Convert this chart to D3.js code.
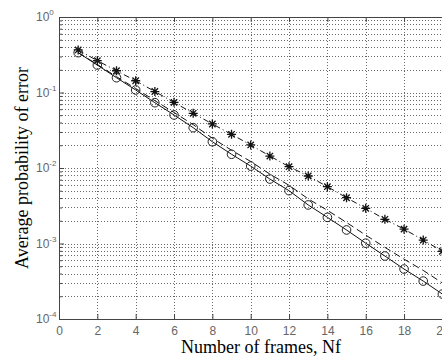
<!DOCTYPE html>
<html>
<head>
<meta charset="utf-8">
<script src="https://cdn.jsdelivr.net/npm/d3@7"></script>
<style>
  body { margin: 0; background: #fff; }
  svg { display: block; }
</style>
</head>
<body>
<div id="chart"></div>
<script>
// values
const frames = [1, 2, 3, 4, 5, 6, 7, 8, 9, 10, 11, 12, 13, 14, 15, 16, 17, 18, 19, 20];
const pStar = [0.366, 0.264, 0.194, 0.143, 0.103, 0.074, 0.053, 0.0383, 0.0279, 0.0202,
               0.0144, 0.0104, 0.00783, 0.00566, 0.00404, 0.00292, 0.00209, 0.00155, 0.00111, 0.00079];
const pDash = [0.337, 0.235, 0.162, 0.113, 0.078, 0.0544, 0.0375, 0.0248, 0.0172, 0.0122,
               0.0083, 0.0059, 0.0039, 0.00275, 0.0019, 0.00129, 0.00089, 0.00062, 0.00044, 0.0003];
const pCircle = [0.337, 0.231, 0.157, 0.108, 0.0733, 0.0504, 0.0342, 0.0223, 0.0152, 0.0106,
                 0.00714, 0.00501, 0.00324, 0.00222, 0.00151, 0.00101, 0.000683, 0.000459, 0.000318, 0.000214];
const xTicks = [0, 2, 4, 6, 8, 10, 12, 14, 16, 18, 20];
const yDecades = [1e-4, 1e-3, 1e-2, 1e-1, 1];
const yExps = ["-4", "-3", "-2", "-1", "0"];

const W = 442, H = 360;
const mLeft = 59, mRight = 442.4, mTop = 17, mBottom = 319;

const svg = d3.select('#chart').append('svg')
    .attr('width', W)
    .attr('height', H);

const x = d3.scaleLinear().domain([0, 20]).range([mLeft, mRight]);
const y = d3.scaleLog().domain([1e-4, 1]).range([mBottom, mTop]);

// minor log positions for grid
const yMinor = [];
yDecades.slice(0, -1).forEach(d => {
    for (let k = 1; k <= 9; k++) yMinor.push(d * k);
});
yMinor.push(1);

// grid
const grid = svg.append('g').attr('stroke', '#444').attr('stroke-dasharray', '1,2').attr('stroke-width', 0.8);
grid.selectAll('.gy')
    .data(yMinor.filter(v => v > 1e-4 && v < 1))
    .enter().append('line')
    .attr('x1', mLeft).attr('x2', mRight)
    .attr('y1', d => Math.round(y(d)) + 0.5).attr('y2', d => Math.round(y(d)) + 0.5);
grid.selectAll('.gx')
    .data(xTicks.filter(v => v > 0 && v < 20))
    .enter().append('line')
    .attr('y1', mTop).attr('y2', mBottom)
    .attr('x1', d => Math.round(x(d)) + 0.5).attr('x2', d => Math.round(x(d)) + 0.5);

// axes
const axisColor = '#444';
const xAxis = svg.append('g')
    .attr('transform', `translate(0,${mBottom})`)
    .call(d3.axisBottom(x).tickValues(xTicks).tickSize(-5).tickPadding(7).tickFormat(d3.format('d')));
const xTop = svg.append('g')
    .attr('transform', `translate(0,${mTop})`)
    .call(d3.axisTop(x).tickValues(xTicks).tickSize(-5).tickFormat(''));
const yAxis = svg.append('g')
    .attr('transform', `translate(${mLeft},0)`)
    .call(d3.axisLeft(y).tickValues(yMinor).tickSize(-3).tickFormat(''));

[xAxis, xTop, yAxis].forEach(a => {
    a.select('.domain').attr('stroke', axisColor);
    a.selectAll('.tick line').attr('stroke', axisColor);
});
yAxis.selectAll('.tick line').filter(d => yDecades.includes(d)).attr('x2', 5);

xAxis.selectAll('.tick text')
    .attr('fill', '#666')
    .style('font-family', 'Liberation Sans, Arial, sans-serif')
    .style('font-size', '12px');

// log decade labels with superscripts
const yl = svg.append('g')
    .style('font-family', 'Liberation Sans, Arial, sans-serif')
    .attr('fill', '#666');
yl.selectAll('text')
    .data(yDecades)
    .enter().append('text')
    .attr('x', 36)
    .attr('y', d => y(d) + 4)
    .style('font-size', '12px')
    .each(function(d, i) {
        const t = d3.select(this);
        t.append('tspan').text('10');
        t.append('tspan').attr('dy', -6).style('font-size', '8px').text(yExps[i]);
    });

// series
const line = vals => d3.line()
    .x((d, i) => x(frames[i]))
    .y(d => y(d))(vals);

svg.append('path')
    .attr('d', line(pStar))
    .attr('fill', 'none').attr('stroke', '#111').attr('stroke-width', 1)
    .attr('stroke-dasharray', '6,3,1,3');
svg.append('path')
    .attr('d', line(pDash))
    .attr('fill', 'none').attr('stroke', '#111').attr('stroke-width', 1)
    .attr('stroke-dasharray', '7,4');
svg.append('path')
    .attr('d', line(pCircle))
    .attr('fill', 'none').attr('stroke', '#111').attr('stroke-width', 1);

svg.selectAll('.star')
    .data(pStar)
    .enter().append('path')
    .attr('class', 'star')
    .attr('transform', (d, i) => `translate(${x(frames[i])},${y(d)})`)
    .attr('d', 'M-4.5,0H4.5M0,-4.5V4.5M-3.2,-3.2L3.2,3.2M-3.2,3.2L3.2,-3.2')
    .attr('stroke', '#111').attr('stroke-width', 1.3);

svg.selectAll('.circ')
    .data(pCircle)
    .enter().append('circle')
    .attr('class', 'circ')
    .attr('cx', (d, i) => x(frames[i]))
    .attr('cy', d => y(d))
    .attr('r', 4.3)
    .attr('fill', 'none').attr('stroke', '#222').attr('stroke-width', 1);

// axis titles
svg.append('text')
    .attr('x', 261).attr('y', 353)
    .attr('text-anchor', 'middle')
    .style('font-family', 'Liberation Serif, Times New Roman, serif')
    .style('font-size', '18px')
    .text('Number of frames, Nf');

svg.append('text')
    .attr('transform', 'translate(28,168) rotate(-90)')
    .attr('text-anchor', 'middle')
    .style('font-family', 'Liberation Serif, Times New Roman, serif')
    .style('font-size', '18px')
    .text('Average probability of error');
</script>
</body>
</html>
